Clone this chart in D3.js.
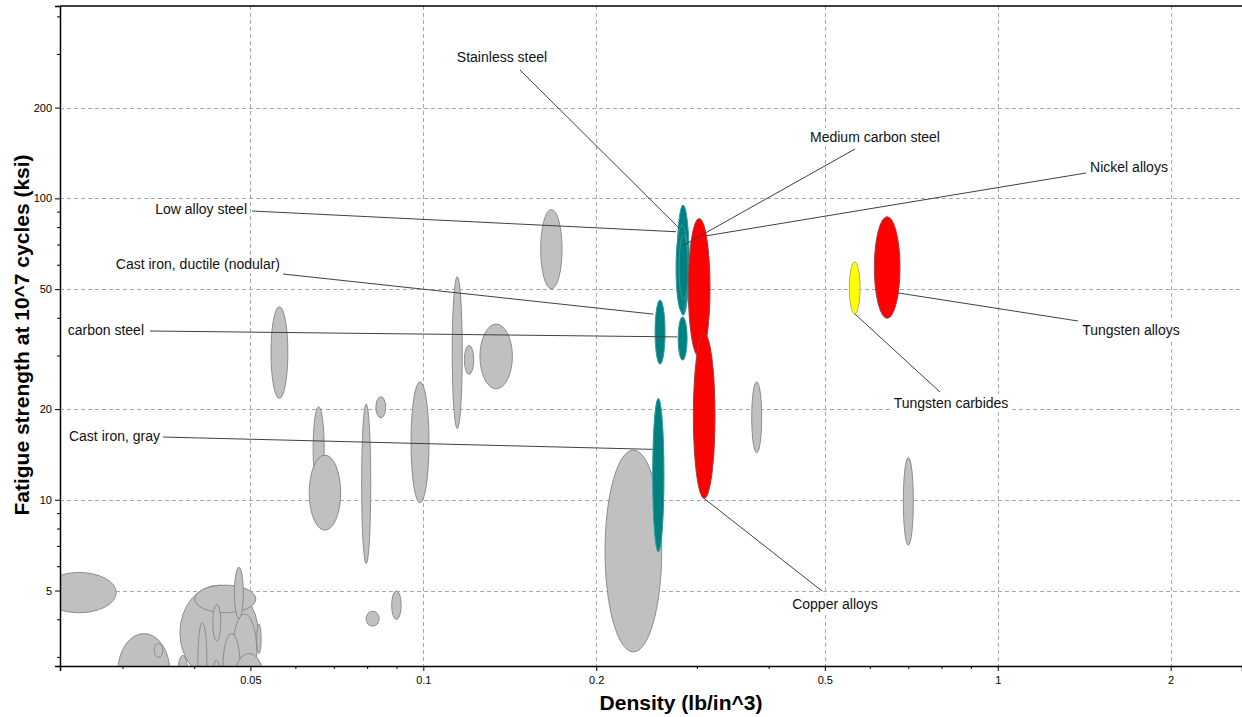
<!DOCTYPE html>
<html>
<head>
<meta charset="utf-8">
<script src="https://cdn.jsdelivr.net/npm/d3@7"></script>
<style>
  body { margin: 0; background: #fff; }
  svg { display: block; font-family: "Liberation Sans", Arial, sans-serif; }
</style>
</head>
<body>
<svg id="chart" width="1242" height="717"></svg>
<script>
// material ranges: [densityMin, densityMax, strengthMin, strengthMax]
const grayMaterials = [
  [0.0217, 0.0292, 4.22, 5.74],
  [0.0294, 0.0362, 2.01, 3.60],
  [0.0340, 0.0352, 3.00, 3.34],
  [0.0377, 0.0516, 2.52, 5.21],
  [0.0400, 0.0511, 4.22, 5.21],
  [0.0469, 0.0486, 4.04, 5.97],
  [0.0430, 0.0444, 3.40, 4.50],
  [0.0513, 0.0522, 3.09, 3.87],
  [0.0466, 0.0513, 2.34, 4.18],
  [0.0405, 0.0420, 2.17, 3.92],
  [0.0448, 0.0480, 2.17, 3.60],
  [0.0470, 0.0526, 2.17, 3.09],
  [0.0374, 0.0389, 2.34, 3.05],
  [0.0430, 0.0443, 2.34, 2.94],
  [0.0543, 0.0581, 21.7, 43.7],
  [0.0643, 0.0672, 10.77, 20.35],
  [0.0633, 0.0718, 7.93, 14.07],
  [0.0781, 0.0810, 6.15, 20.77],
  [0.0827, 0.0860, 18.71, 21.97],
  [0.0795, 0.0838, 3.81, 4.27],
  [0.0881, 0.0915, 4.01, 4.99],
  [0.0952, 0.1023, 9.77, 24.63],
  [0.1123, 0.1169, 17.25, 54.95],
  [0.1179, 0.1224, 26.07, 32.53],
  [0.1255, 0.1429, 23.35, 38.27],
  [0.1601, 0.1744, 50.1, 91.9],
  [0.2072, 0.2600, 3.13, 14.62],
  [0.3730, 0.3882, 14.32, 24.63],
  [0.6849, 0.7129, 7.07, 13.82]
];

const namedMaterials = ['Cast iron, gray', 'Cast iron, ductile (nodular)', 'Stainless steel', 'Low alloy steel',
  'Medium carbon steel', 'carbon steel', 'Nickel alloys', 'Copper alloys', 'Tungsten carbides', 'Tungsten alloys'];
const namedGroup = ['iron', 'iron', 'iron', 'iron', 'iron', 'iron', 'heavy', 'heavy', 'carbide', 'heavy'];
const namedRanges = [
  [0.2508, 0.2624, 6.72, 21.7],
  [0.2532, 0.2635, 28.19, 46.0],
  [0.2766, 0.2902, 41.0, 95.0],
  [0.2754, 0.2890, 41.95, 81.6],
  [0.2788, 0.2890, 46.0, 75.6],
  [0.2777, 0.2879, 29.07, 40.4],
  [0.2893, 0.3156, 29.75, 85.8],
  [0.2952, 0.3220, 10.11, 35.65],
  [0.5516, 0.5758, 41.3, 61.6],
  [0.6098, 0.6758, 40.0, 86.9]
];
// point on each bubble that the label's leader line points at [density, strength]
const leaderTargets = [
  [0.2508, 14.7], [0.2514, 41.3], [0.2791, 79.5], [0.2754, 77.5], [0.2824, 69.5],
  [0.2768, 34.7], [0.3094, 75.0], [0.3081, 10.11], [0.5644, 41.3], [0.6685, 48.6]
];

const xMajor = [0.05, 0.1, 0.2, 0.5, 1, 2];
const yMajor = [5, 10, 20, 50, 100, 200];
const xLabel = 'Density (lb/in^3)';
const yLabel = 'Fatigue strength at 10^7 cycles (ksi)';

const mLeft = 60, mRight = 1242, mTop = 6, mBottom = 666;
const fills = { gray: '#c0c0c0', iron: '#008080', heavy: '#ff0000', carbide: '#ffff00' };

// label text boxes: [x, y(center), anchor, lineStartX, lineStartY]
const labelLayout = [
  [160, 436, 'end', 162, 437],
  [280, 264, 'end', 283, 274],
  [502, 57, 'middle', 520, 70],
  [247, 209, 'end', 252, 211],
  [875, 137, 'middle', 855, 149],
  [144, 330, 'end', 150, 331],
  [1129, 167, 'middle', 1086, 173],
  [835, 604, 'middle', 822, 591],
  [951, 403, 'middle', 940, 392],
  [1131, 330, 'middle', 1078, 321]
];

const svg = d3.select('#chart');
const x = d3.scaleLog().domain([0.02331, 2.662]).range([mLeft, mRight]);
const y = d3.scaleLog().domain([2.81, 434.6]).range([mBottom, mTop]);

const minorOf = (domain) => {
  const out = [];
  for (let e = -3; e <= 3; e++) {
    [3, 4, 6, 7, 8, 9].forEach(k => {
      const v = k * Math.pow(10, e);
      if (v > domain[0] && v < domain[1]) out.push(v);
    });
  }
  return out;
};

svg.append('defs').append('clipPath').attr('id', 'plotclip')
  .append('rect').attr('x', mLeft).attr('y', mTop).attr('width', mRight - mLeft).attr('height', mBottom - mTop);

// grid
const grid = svg.append('g').attr('stroke', '#a8a8a8').attr('stroke-dasharray', '4,3').attr('stroke-width', 1);
grid.selectAll('.gx').data(xMajor).join('line').attr('class', 'gx')
  .attr('x1', d => Math.round(x(d)) + 0.5).attr('x2', d => Math.round(x(d)) + 0.5)
  .attr('y1', mTop).attr('y2', mBottom);
grid.selectAll('.gy').data(yMajor).join('line').attr('class', 'gy')
  .attr('y1', d => Math.round(y(d)) + 0.5).attr('y2', d => Math.round(y(d)) + 0.5)
  .attr('x1', mLeft).attr('x2', mRight);

const plot = svg.append('g').attr('clip-path', 'url(#plotclip)');

function ellipse (g, r, fill, stroke) {
  const x0 = x(r[0]), x1 = x(r[1]), y0 = y(r[2]), y1 = y(r[3]);
  g.append('ellipse')
    .attr('cx', (x0 + x1) / 2).attr('cy', (y0 + y1) / 2)
    .attr('rx', (x1 - x0) / 2).attr('ry', (y0 - y1) / 2)
    .attr('fill', fill).attr('stroke', stroke).attr('stroke-width', 1);
}

grayMaterials.forEach(r => ellipse(plot, r, fills.gray, '#8c8c8c'));
namedRanges.forEach((r, i) => {
  const g = namedGroup[i];
  ellipse(plot, r, fills[g], g === 'iron' ? '#2f9a9a' : (g === 'carbide' ? '#b0b060' : '#a04040'));
});

// axes
const xAxis = d3.axisBottom(x).tickValues(xMajor).tickFormat(d3.format('~g')).tickSize(5).tickPadding(5);
const gx = svg.append('g').attr('transform', `translate(0,${mBottom})`).call(xAxis);
gx.selectAll('.minor').data(minorOf(x.domain())).join('line').attr('class', 'minor')
  .attr('x1', d => x(d)).attr('x2', d => x(d)).attr('y1', 0).attr('y2', 3).attr('stroke', '#000');
const yAxis = d3.axisLeft(y).tickValues(yMajor).tickFormat(d3.format('~g')).tickSize(5).tickPadding(3);
const gy = svg.append('g').attr('transform', `translate(${mLeft},0)`).call(yAxis);
gy.selectAll('.minor').data(minorOf(y.domain())).join('line').attr('class', 'minor')
  .attr('y1', d => y(d)).attr('y2', d => y(d)).attr('x1', 0).attr('x2', -3).attr('stroke', '#000');
[gx, gy].forEach(g => {
  g.select('.domain').attr('stroke', '#000').attr('stroke-width', 1.5);
  g.selectAll('text').attr('font-size', 11).attr('fill', '#000').attr('font-family', '"Liberation Sans", Arial, sans-serif');
});
svg.append('line').attr('x1', mLeft).attr('x2', mRight).attr('y1', mTop).attr('y2', mTop)
  .attr('stroke', '#000').attr('stroke-width', 1.5);

// titles
svg.append('text').attr('x', 681).attr('y', 710).attr('text-anchor', 'middle')
  .attr('font-size', 21).attr('font-weight', 'bold').text(xLabel);
svg.append('text').attr('transform', 'translate(29,335) rotate(-90)').attr('text-anchor', 'middle')
  .attr('font-size', 21).attr('font-weight', 'bold').text(yLabel);

// annotations
const ann = svg.append('g');
namedMaterials.forEach((name, i) => {
  const [tx, ty, anchor, lx, ly] = labelLayout[i];
  const t = leaderTargets[i];
  ann.append('line').attr('x1', lx).attr('y1', ly).attr('x2', x(t[0])).attr('y2', y(t[1]))
    .attr('stroke', '#404040').attr('stroke-width', 1);
  const txt = ann.append('text').attr('x', tx).attr('y', ty).attr('dy', '0.35em')
    .attr('text-anchor', anchor).attr('font-size', 14).attr('fill', '#111').text(name);
  const bb = txt.node().getBBox();
  ann.insert('rect', () => txt.node())
    .attr('x', bb.x - 3).attr('y', bb.y - 1).attr('width', bb.width + 6).attr('height', bb.height + 2)
    .attr('fill', '#fff');
});
</script>
</body>
</html>
